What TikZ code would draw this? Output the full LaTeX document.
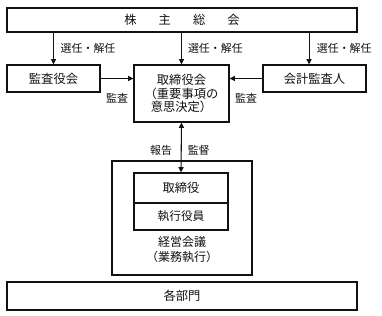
\documentclass[tikz,border=0pt]{standalone}
\usepackage{fontspec}
\setmainfont{Noto Sans CJK JP}
\usetikzlibrary{arrows.meta,positioning}
\definecolor{ink}{HTML}{111111}
\tikzset{
  box/.style={draw=ink, line width=0.8pt, rectangle, inner sep=0pt, text=ink, font=\fontsize{9.2}{10.3}\selectfont, align=center},
  lbl/.style={text=ink, font=\fontsize{8.2}{10}\selectfont, inner sep=0pt},
  arr/.style={ink, line width=0.8pt, -{Triangle[length=4pt, width=3.8pt]}},
  arrboth/.style={ink, line width=0.8pt, {Triangle[length=4pt, width=3.8pt]}-{Triangle[length=4pt, width=3.8pt]}}
}

\begin{document}
\begin{tikzpicture}[x=0.75pt, y=-0.75pt, line cap=butt, line join=miter]
\useasboundingbox (0,0) rectangle (382,316);

% ---------------- top: shareholders ----------------
\node[box, minimum width=262.5pt, minimum height=18pt] (soukai) at (182,20)
  {株\hspace{1.8em}主\hspace{1.8em}総\hspace{1.8em}会};

% ---------------- middle row ----------------
\node[box, minimum width=69.75pt, minimum height=20.25pt] (kansa) at (53.5,78.5) {監査役会};
\node[box, minimum width=71.25pt, minimum height=42.75pt] (board) at (181.5,93.5) {取締役会\\（重要事項の\\意思決定）};
\node[box, minimum width=77.25pt, minimum height=20.25pt] (kaikei) at (314.5,78.5) {会計監査人};
\coordinate (kaikeiIn) at ([xshift=-4.1pt]kaikei.north);

% ---------------- management meeting ----------------
\node[box, minimum width=105pt, minimum height=85.5pt] (kaigi) at (182,218) {};
\node[box, minimum width=70.5pt, minimum height=22.5pt] (director) at (181,188) {取締役};
\node[box, minimum width=70.5pt, minimum height=20.25pt, font=\fontsize{8.8}{10}\selectfont] (officer) at (181,216.5) {執行役員};
\node[box, draw=none, font=\fontsize{9}{11.25}\selectfont] (kaigitxt) at (182,249.5) {経営会議\\（業務執行）};

% ---------------- bottom: departments ----------------
\node[box, minimum width=262.5pt, minimum height=21pt] (bumon) at (182,296) {各部門};

% ---------------- appointment arrows ----------------
\draw[arr] (soukai.south -| kansa.north) -- (kansa.north)
  node[lbl, midway, anchor=west, xshift=5pt] {選任・解任};
\draw[arr] (soukai.south -| board.north) -- (board.north)
  node[lbl, midway, anchor=west, xshift=4.5pt] {選任・解任};
\draw[arr] (soukai.south -| kaikeiIn) -- (kaikeiIn)
  node[lbl, midway, anchor=west, xshift=5.5pt] {選任・解任};

% ---------------- audit arrows ----------------
\draw[arr] (kansa.east) -- (kansa.east -| board.west)
  node[lbl, midway, yshift=-14.6pt] {監査};
\draw[arr] (kaikei.west) -- (kaikei.west -| board.east)
  node[lbl, midway, yshift=-14.6pt] {監査};

% ---------------- report / supervise ----------------
\draw[arrboth] (board.south) -- (director.north)
  node[lbl, pos=0.55, anchor=east, xshift=-6.5pt] {報告}
  node[lbl, pos=0.55, anchor=west, xshift=4.5pt] {監督};

\end{tikzpicture}
\end{document}
